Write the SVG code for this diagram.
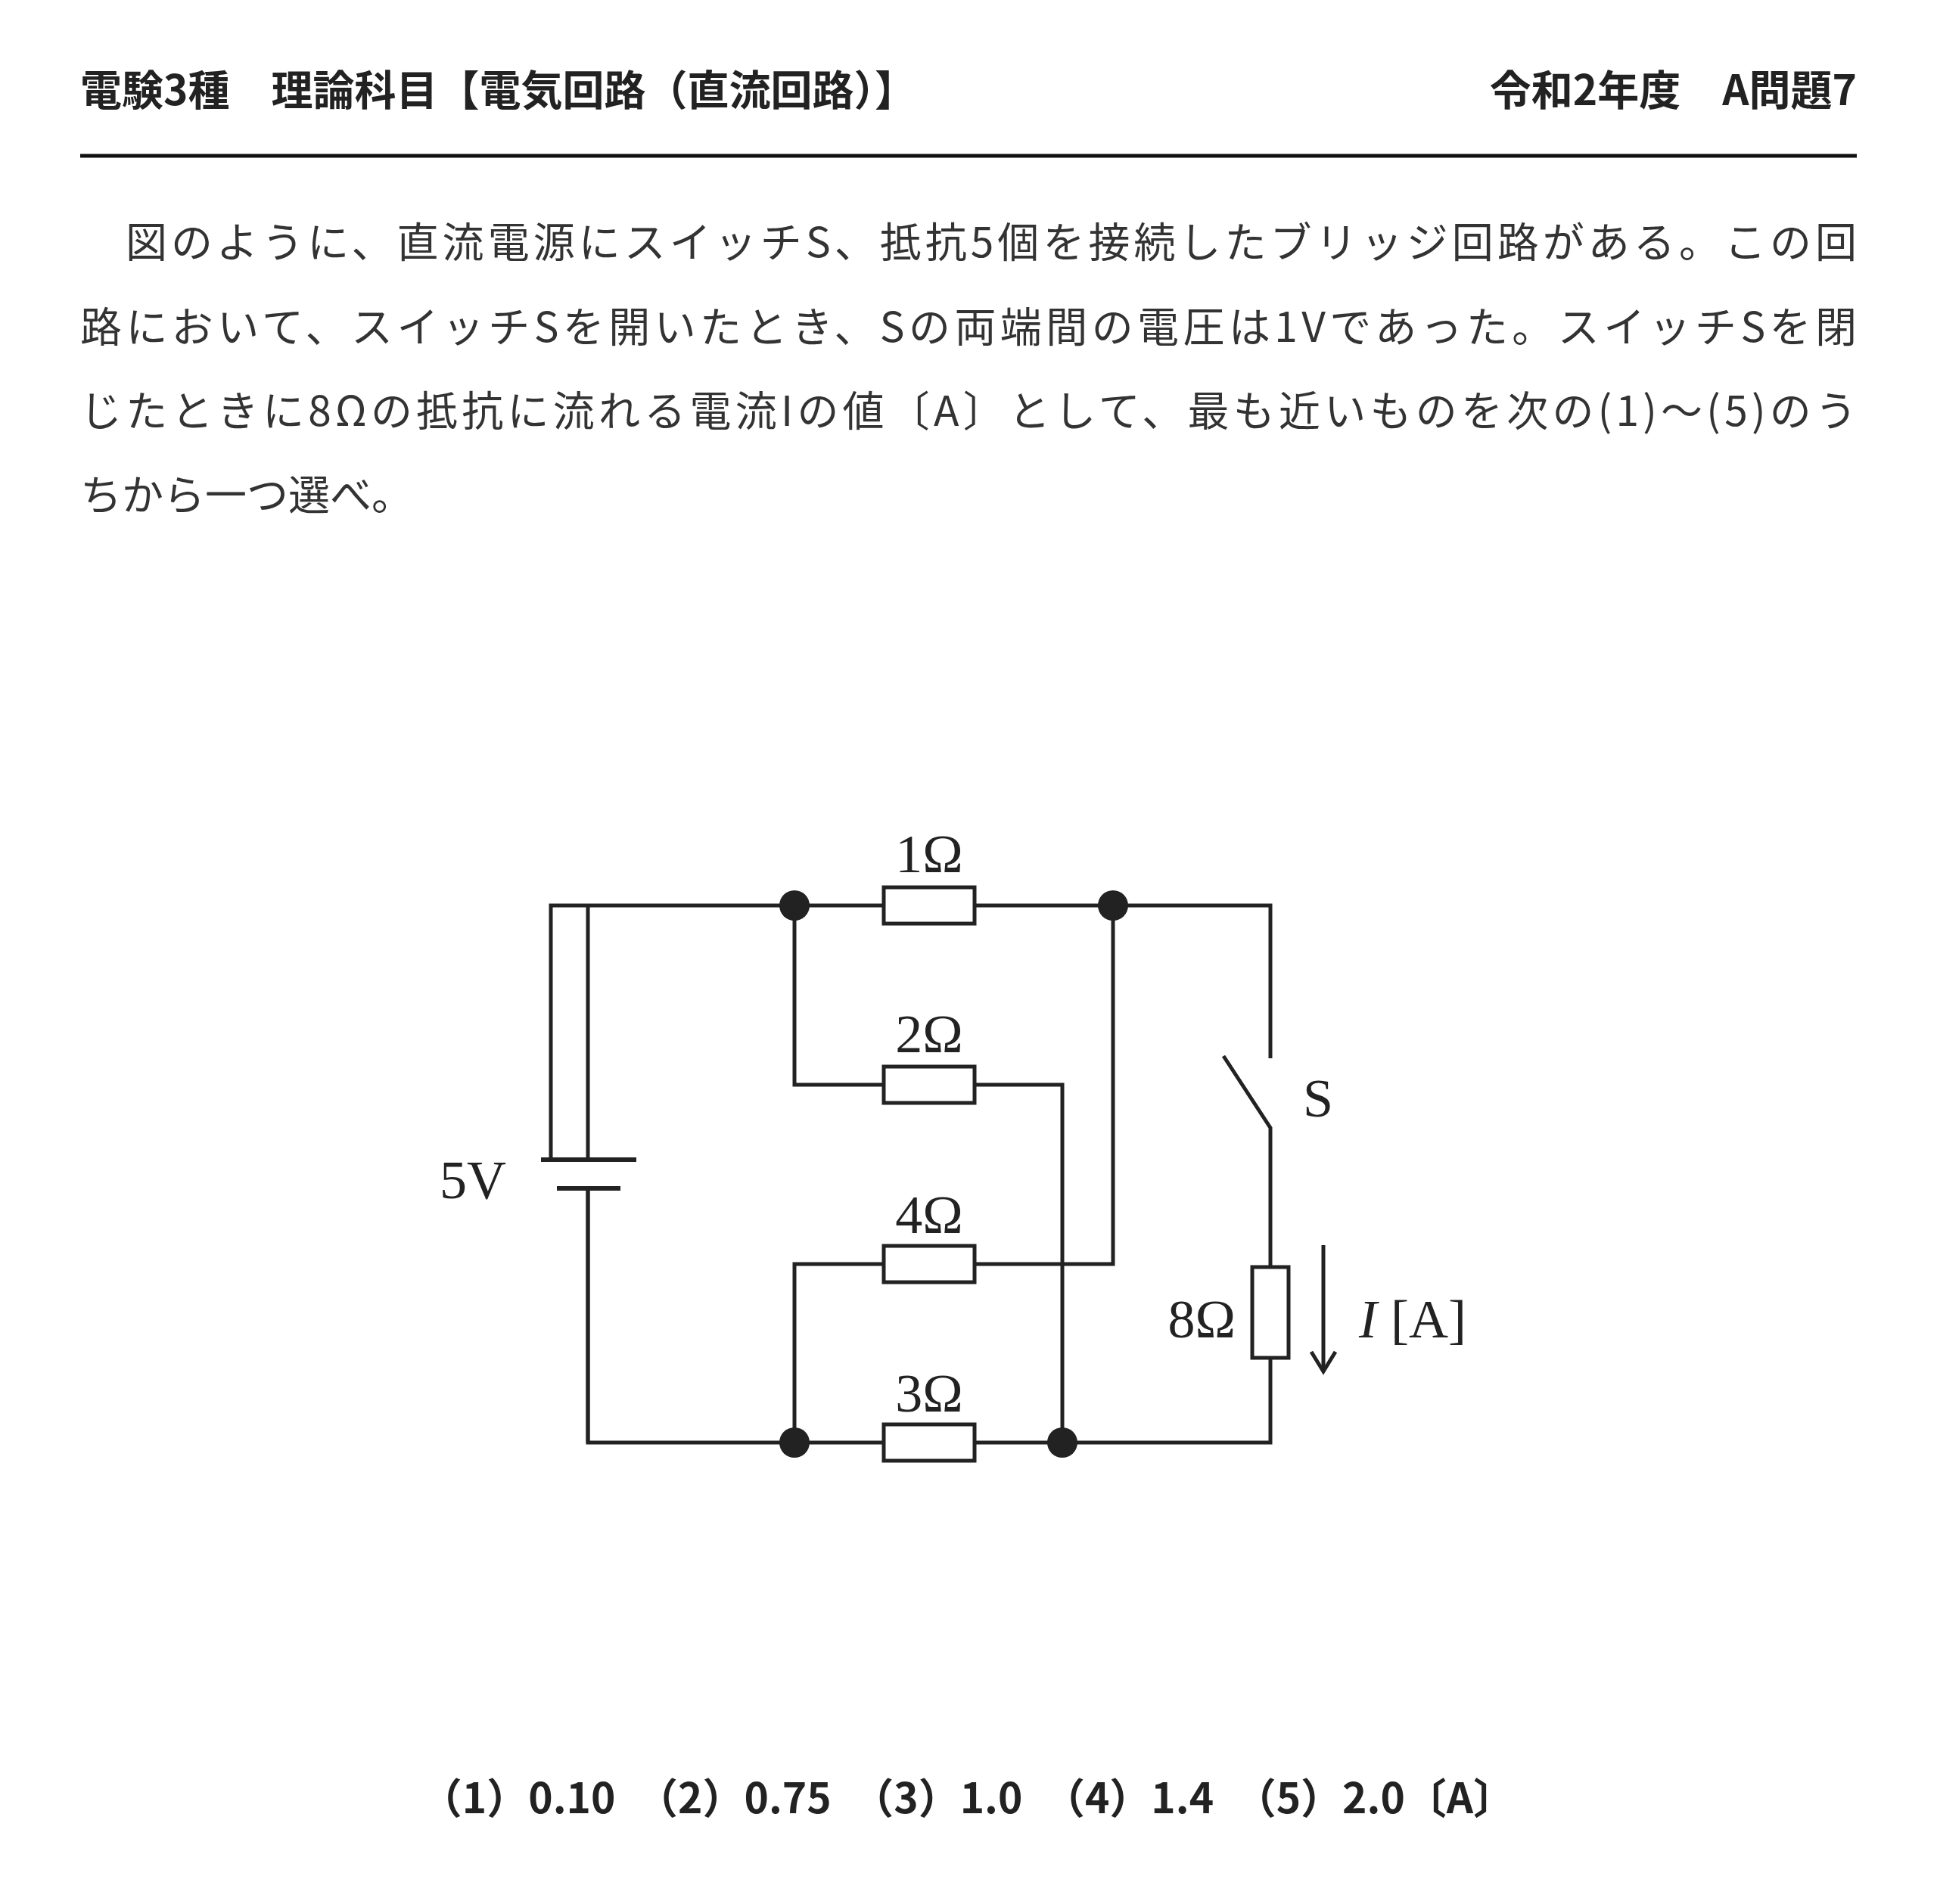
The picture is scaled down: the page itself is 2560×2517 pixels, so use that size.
<svg xmlns="http://www.w3.org/2000/svg" width="2560" height="2517" viewBox="0 0 2560 2517">
<style>
.h{font-family:"Noto Sans CJK JP","Noto Sans",sans-serif;font-weight:bold;font-size:55px;fill:#222}
.b{font-family:"Noto Sans CJK JP","Noto Sans",sans-serif;font-size:55px;fill:#333}
.l{font-family:"Liberation Serif","DejaVu Serif",serif;font-size:72px;fill:#222}
.w{stroke:#222;stroke-width:5;fill:none}
.r{stroke:#222;stroke-width:5;fill:#fff}
</style>
<rect width="2560" height="2517" fill="#fff"/>
<text class="h" x="106" y="139">電験3種　理論科目【電気回路（直流回路）】</text>
<text class="h" x="2454" y="139" text-anchor="end">令和2年度　A問題7</text>
<line x1="106" y1="206" x2="2454" y2="206" stroke="#111" stroke-width="5"/>
<text class="b" x="106" y="340" textLength="2348" lengthAdjust="spacing">　図のように、直流電源にスイッチS、抵抗5個を接続したブリッジ回路がある。この回</text>
<text class="b" x="106" y="452" textLength="2348" lengthAdjust="spacing">路において、スイッチSを開いたとき、Sの両端間の電圧は1Vであった。スイッチSを閉</text>
<text class="b" x="106" y="563" textLength="2348" lengthAdjust="spacing">じたときに8Ωの抵抗に流れる電流Iの値〔A〕として、最も近いものを次の(1)～(5)のう</text>
<text class="b" x="106" y="674">ちから一つ選べ。</text>
<g id="connectors">
<path class="w" d="M728,1533 V1197 H1679 V1399 M1617,1396 L1679,1491 V1907 H777 V1571"/>
<path class="w" d="M777,1197 V1533 M777,1571 V1907"/>
<path class="w" d="M1050,1197 V1434 H1404 V1907"/>
<path class="w" d="M1050,1907 V1671 H1471 V1197"/>
<line class="w" x1="1749" y1="1646" x2="1749" y2="1813"/>
<path class="w" d="M1733,1787 L1749,1813 L1765,1787"/>
</g>
<g id="battery"><rect x="777" y="1520" width="4" height="4" fill="#fff" opacity="0"/>
<line x1="715" y1="1533" x2="841" y2="1533" stroke="#222" stroke-width="6"/>
<line x1="736" y1="1571" x2="820" y2="1571" stroke="#222" stroke-width="6"/>
<text class="l" x="581" y="1584">5V</text></g>
<g id="r1"><rect class="r" x="1168" y="1173" width="120" height="48"/><text class="l" x="1228" y="1153" text-anchor="middle">1Ω</text></g>
<g id="r2"><rect class="r" x="1168" y="1410" width="120" height="48"/><text class="l" x="1228" y="1391" text-anchor="middle">2Ω</text></g>
<g id="r4"><rect class="r" x="1168" y="1647" width="120" height="48"/><text class="l" x="1228" y="1630" text-anchor="middle">4Ω</text></g>
<g id="r3"><rect class="r" x="1168" y="1883" width="120" height="48"/><text class="l" x="1228" y="1866" text-anchor="middle">3Ω</text></g>
<g id="r8"><rect class="r" x="1655" y="1675" width="48" height="120"/><text class="l" x="1633" y="1768" text-anchor="end">8Ω</text></g>
<g id="switch"><text class="l" x="1722" y="1476">S</text></g>
<g id="current"><text class="l" x="1796" y="1768"><tspan font-style="italic">I</tspan> [A]</text></g>
<g id="nodes" fill="#222">
<circle cx="1050" cy="1197" r="20"/><circle cx="1471" cy="1197" r="20"/>
<circle cx="1050" cy="1907" r="20"/><circle cx="1404" cy="1907" r="20"/>
</g>
<text class="h" x="1279" y="2397" text-anchor="middle">（1）0.10　（2）0.75　（3）1.0　（4）1.4　（5）2.0〔A〕</text>
</svg>
